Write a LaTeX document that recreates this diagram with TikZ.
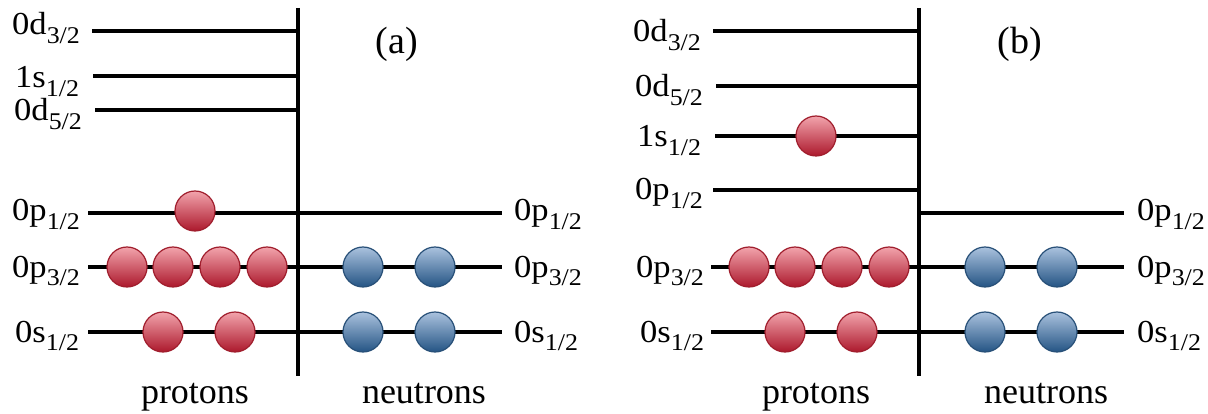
\documentclass[tikz,border=0pt]{standalone}
\usepackage{fontspec}
\setmainfont{Liberation Serif}
\newfontfamily\lvlfont[FakeStretch=1.08]{Liberation Serif}
\newcommand\sbs[1]{\raisebox{-8.5pt}{\fontsize{24}{24}\selectfont #1}}
\begin{document}
\begin{tikzpicture}[x=1pt,y=-1pt,
  lvl/.style={line width=4.5pt},
  lab/.style={anchor=base west, inner sep=0pt, font=\lvlfont\fontsize{32}{32}\selectfont},
  captxt/.style={anchor=base, inner sep=0pt, font=\fontsize{36}{36}\selectfont},
  ptxt/.style={anchor=base, inner sep=0pt, font=\fontsize{38}{38}\selectfont},
  pball/.style={circle, minimum size=40pt, inner sep=0pt, draw={rgb,255:red,160;green,30;blue,45}, line width=1.2pt,
    top color={rgb,255:red,242;green,164;blue,172}, bottom color={rgb,255:red,172;green,24;blue,44}},
  nball/.style={circle, minimum size=40pt, inner sep=0pt, draw={rgb,255:red,40;green,80;blue,120}, line width=1.2pt,
    top color={rgb,255:red,170;green,194;blue,222}, bottom color={rgb,255:red,36;green,84;blue,132}}]
\useasboundingbox (0,0) rectangle (1208,414);
% ---------- panel (a) ----------
\coordinate (aT) at (298,8);
\coordinate (aB) at (298,376);
\draw[lvl] (aT) -- (aB);
\coordinate (a1) at (92,31);  \coordinate (a1e) at (298,31);
\coordinate (a2) at (93,76);  \coordinate (a2e) at (298,76);
\coordinate (a3) at (95,110); \coordinate (a3e) at (298,110);
\coordinate (a4) at (88,213); \coordinate (a4e) at (502,213);
\coordinate (a5) at (88,267); \coordinate (a5e) at (502,267);
\coordinate (a6) at (88,332); \coordinate (a6e) at (502,332);
\draw[lvl] (a1) -- (a1e);
\draw[lvl] (a2) -- (a2e);
\draw[lvl] (a3) -- (a3e);
\draw[lvl] (a4) -- (a4e);
\draw[lvl] (a5) -- (a5e);
\draw[lvl] (a6) -- (a6e);
\node[lab] (la1) at (12,35) {0d\sbs{3/2}};
\node[lab] (la2) at (15,88) {1s\sbs{1/2}};
\node[lab] (la3) at (14,121) {0d\sbs{5/2}};
\node[lab] (la4) at (12,221) {0p\sbs{1/2}};
\node[lab] (la5) at (12,277) {0p\sbs{3/2}};
\node[lab] (la6) at (15,342) {0s\sbs{1/2}};
\node[lab] (ra4) at (514,221) {0p\sbs{1/2}};
\node[lab] (ra5) at (514,277) {0p\sbs{3/2}};
\node[lab] (ra6) at (514,342) {0s\sbs{1/2}};
\node[ptxt] (ta) at (397,54) {(a)};
\node[captxt] (pa) at (195,403) {protons};
\node[captxt] (na) at (424,403) {neutrons};
\node[pball] (ap1) at (195,211) {};
\node[pball] (ap2) at (127,267) {};
\node[pball] (ap3) at (173,267) {};
\node[pball] (ap4) at (220,267) {};
\node[pball] (ap5) at (267,267) {};
\node[pball] (ap6) at (163,332) {};
\node[pball] (ap7) at (235,332) {};
\node[nball] (an1) at (363,267) {};
\node[nball] (an2) at (435,267) {};
\node[nball] (an3) at (363,332) {};
\node[nball] (an4) at (435,332) {};
% ---------- panel (b) ----------
\coordinate (bT) at (919,8);
\coordinate (bB) at (919,376);
\draw[lvl] (bT) -- (bB);
\coordinate (b1) at (713,31);  \coordinate (b1e) at (919,31);
\coordinate (b2) at (716,86);  \coordinate (b2e) at (919,86);
\coordinate (b3) at (715,136); \coordinate (b3e) at (919,136);
\coordinate (b4) at (713,190); \coordinate (b4e) at (919,190);
\coordinate (b7) at (919,213); \coordinate (b7e) at (1124,213);
\coordinate (b5) at (711,267); \coordinate (b5e) at (1124,267);
\coordinate (b6) at (711,332); \coordinate (b6e) at (1124,332);
\draw[lvl] (b1) -- (b1e);
\draw[lvl] (b2) -- (b2e);
\draw[lvl] (b3) -- (b3e);
\draw[lvl] (b4) -- (b4e);
\draw[lvl] (b7) -- (b7e);
\draw[lvl] (b5) -- (b5e);
\draw[lvl] (b6) -- (b6e);
\node[lab] (lb1) at (633,42) {0d\sbs{3/2}};
\node[lab] (lb2) at (635,97) {0d\sbs{5/2}};
\node[lab] (lb3) at (637,147) {1s\sbs{1/2}};
\node[lab] (lb4) at (635,200) {0p\sbs{1/2}};
\node[lab] (lb5) at (636,277) {0p\sbs{3/2}};
\node[lab] (lb6) at (640,342) {0s\sbs{1/2}};
\node[lab] (rb4) at (1137,221) {0p\sbs{1/2}};
\node[lab] (rb5) at (1137,277) {0p\sbs{3/2}};
\node[lab] (rb6) at (1137,342) {0s\sbs{1/2}};
\node[ptxt] (tb) at (1020,54) {(b)};
\node[captxt] (pb) at (816,403) {protons};
\node[captxt] (nb) at (1046,403) {neutrons};
\node[pball] (bp1) at (816,136) {};
\node[pball] (bp2) at (749,267) {};
\node[pball] (bp3) at (795,267) {};
\node[pball] (bp4) at (842,267) {};
\node[pball] (bp5) at (889,267) {};
\node[pball] (bp6) at (785,332) {};
\node[pball] (bp7) at (857,332) {};
\node[nball] (bn1) at (985,267) {};
\node[nball] (bn2) at (1057,267) {};
\node[nball] (bn3) at (985,332) {};
\node[nball] (bn4) at (1057,332) {};
\end{tikzpicture}
\end{document}
